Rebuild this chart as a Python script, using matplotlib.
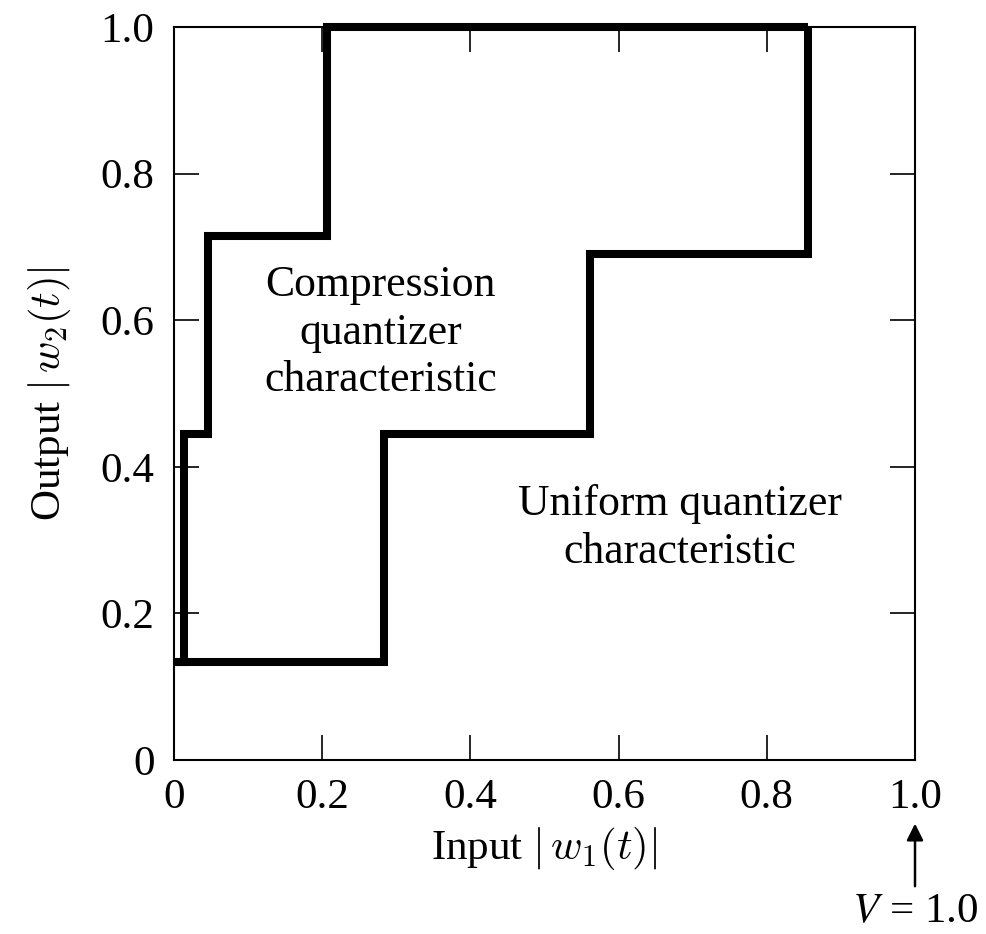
import matplotlib
matplotlib.use("Agg")
import matplotlib.pyplot as plt

# Kennlinien (Treppenstufen)
uniform_x = [0.0, 0.284, 0.284, 0.562, 0.562, 0.856, 0.856]
uniform_y = [0.134, 0.134, 0.445, 0.445, 0.690, 0.690, 1.0]

compress_x = [0.0, 0.013, 0.013, 0.046, 0.046, 0.206, 0.206, 0.856]
compress_y = [0.134, 0.134, 0.445, 0.445, 0.715, 0.715, 1.0, 1.0]

ticks = [0, 0.2, 0.4, 0.6, 0.8, 1.0]
tick_labels = ['0', '0.2', '0.4', '0.6', '0.8', '1.0']

plt.rcParams['font.family'] = ['Liberation Serif', 'DejaVu Serif']
plt.rcParams['mathtext.fontset'] = 'cm'


def main():
    fig = plt.figure(figsize=(9.86, 9.34), dpi=100)
    ax = fig.add_axes([0.1765, 0.1863, 0.7515, 0.7848])

    ax.plot(uniform_x, uniform_y, color='black', lw=5.8,
            solid_joinstyle='miter', solid_capstyle='butt', clip_on=False)
    ax.plot(compress_x, compress_y, color='black', lw=5.8,
            solid_joinstyle='miter', solid_capstyle='butt', clip_on=False)

    ax.set_xlim(0, 1)
    ax.set_ylim(0, 1)
    ax.set_xticks(ticks)
    ax.set_xticklabels(tick_labels)
    ax.set_yticks(ticks)
    ax.set_yticklabels(tick_labels)
    ax.tick_params(direction='in', length=18, width=1.2, labelsize=31,
                   top=True, right=True)
    ax.tick_params(axis='x', pad=13)
    ax.tick_params(axis='y', pad=14)
    for s in ax.spines.values():
        s.set_linewidth(1.5)

    ax.set_xlabel(r'Input $|\,w_1(t)|$', fontsize=31, labelpad=6)
    ax.set_ylabel(r'Output $|\,w_2(t)|$', fontsize=31, labelpad=20)

    ax.text(0.279, 0.583, 'Compression\nquantizer\ncharacteristic',
            ha='center', va='center', fontsize=31.5, linespacing=1.25)
    ax.text(0.683, 0.316, 'Uniform quantizer\ncharacteristic',
            ha='center', va='center', fontsize=31.5, linespacing=1.25)

    # Pfeil unter der 1.0
    ax.annotate('', xy=(1.0, -0.083), xytext=(1.0, -0.176),
                xycoords='axes fraction', textcoords='axes fraction',
                arrowprops=dict(arrowstyle='-|>', color='black', lw=1.8,
                                mutation_scale=25))
    ax.text(1.0, -0.207, r'$V$ = 1.0', transform=ax.transAxes,
            ha='center', va='center', fontsize=31, clip_on=False,
            math_fontfamily='stix')

    fig.savefig('out.png', dpi=100)


if __name__ == "__main__":
    main()
